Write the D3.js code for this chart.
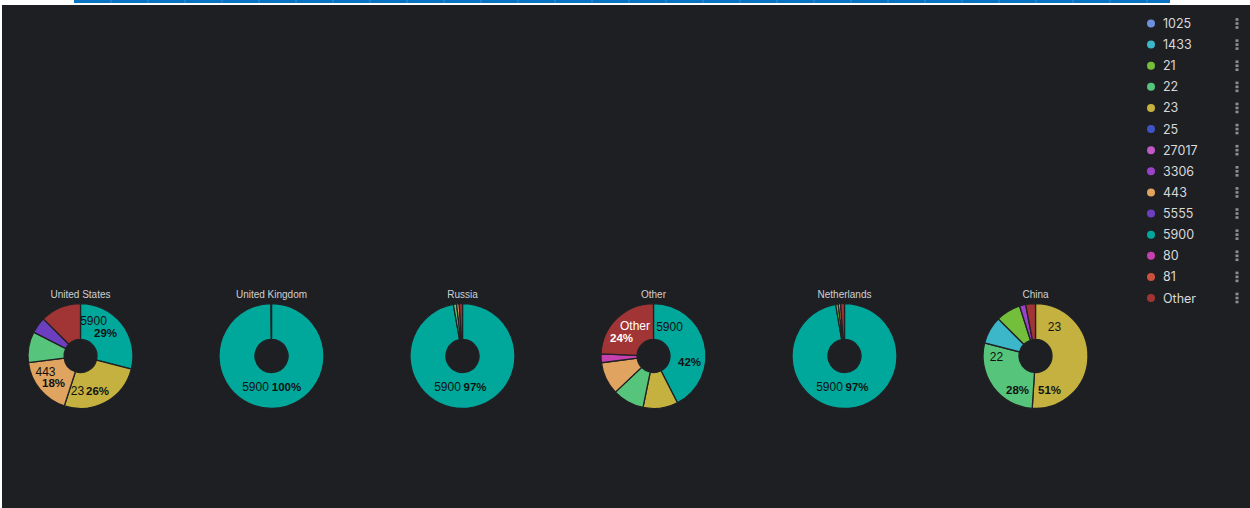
<!DOCTYPE html>
<html>
<head>
<meta charset="utf-8">
<script src="https://cdn.jsdelivr.net/npm/d3@7"></script>
<style>
  html, body { margin: 0; padding: 0; background: #fff; }
  #container { position: relative; width: 1250px; height: 508px; overflow: hidden; }
</style>
</head>
<body>
<div id="container"></div>
<script>
/** DATA */
const countries = ["United States", "United Kingdom", "Russia", "Other", "Netherlands", "China"];

const legendPorts = ["1025", "1433", "21", "22", "23", "25", "27017", "3306", "443", "5555", "5900", "80", "81", "Other"];
const portColors = ["#6e8fdc", "#3cb6c9", "#73bf3c", "#56c47a", "#c4b13f", "#3e54c4", "#c159c6",
  "#9a43c8", "#e0a360", "#6c3fc0", "#00a89c", "#c640b0", "#c9513d", "#a13535"];

// share of traffic per destination port, one pair of arrays per country
const usPorts = ["5900", "23", "443", "22", "5555", "Other"];
const usShare = [29, 26, 18, 9.5, 5, 12.5];
const ukPorts = ["5900", "Other"];
const ukShare = [99.85, 0.15];
const ruPorts = ["5900", "22", "443", "Other"];
const ruShare = [97.2, 1, 0.8, 1];
const otherPorts = ["5900", "23", "22", "443", "80", "Other"];
const otherShare = [42.4, 10.7, 9.7, 10, 2.7, 24.3];
const nlPorts = ["5900", "21", "443", "Other"];
const nlShare = [97.3, 0.8, 0.7, 1.2];
const cnPorts = ["23", "22", "1433", "21", "3306", "Other"];
const cnShare = [51, 28, 8.5, 7.6, 1.9, 3];

const pieData = [
  [usPorts, usShare], [ukPorts, ukShare], [ruPorts, ruShare],
  [otherPorts, otherShare], [nlPorts, nlShare], [cnPorts, cnShare]
];

/** LAYOUT */
const width = 1250, height = 508;
const outerR = 52.5, innerR = 16.5;

// where name / percent labels sit, as offsets (px) from each pie's centre
const labelSpots = {
  "United States|5900": { name: [13, -35], pct: [25, -23.5] },
  "United States|23": { name: [-3, 35], pct: [17, 35] },
  "United States|443": { name: [-35, 15.5], pct: [-27, 27] },
  "United Kingdom|5900": { name: [-16, 31], pct: [15, 31] },
  "Russia|5900": { name: [-15, 31], pct: [12.5, 31] },
  "Other|5900": { name: [16, -29.5], pct: [36, 6] },
  "Other|Other": { name: [-18.5, -30], pct: [-32, -18.5] },
  "Netherlands|5900": { name: [-15, 31], pct: [12.5, 31] },
  "China|23": { name: [19, -29], pct: [14, 34] },
  "China|22": { name: [-39, 1], pct: [-18, 34] }
};

const colorScale = d3.scaleOrdinal().domain(legendPorts).range(portColors);
const xScale = d3.scalePoint().domain(countries).range([80.5, 1035.5]);
const cy = 356;

const svg = d3.select("#container").append("svg")
  .attr("width", width)
  .attr("height", height);

// panel background
svg.append("rect").attr("x", 2).attr("y", 5).attr("width", width - 2).attr("height", height - 5)
  .attr("fill", "#1e1f23");

// blue strip at the top
svg.append("rect").attr("x", 74).attr("y", 0).attr("width", 1096).attr("height", 3).attr("fill", "#0a74c4");
svg.append("g").selectAll("line")
  .data(d3.range(74 + 37, 1170, 37))
  .join("line")
  .attr("x1", d => d).attr("x2", d => d).attr("y1", 0).attr("y2", 3)
  .attr("stroke", "#3d8fd0").attr("stroke-width", 1);

const pie = d3.pie().sort(null).value(d => d.value);
const arc = d3.arc().innerRadius(innerR).outerRadius(outerR);

countries.forEach((country, i) => {
  const [ports, share] = pieData[i];
  const total = d3.sum(share);
  const slices = ports.map((p, j) => ({ port: p, value: share[j] }));
  const g = svg.append("g").attr("transform", `translate(${xScale(country)},${cy})`);

  g.selectAll("path")
    .data(pie(slices))
    .join("path")
    .attr("d", arc)
    .attr("fill", d => colorScale(d.data.port))
    .attr("stroke", "#202124")
    .attr("stroke-width", 1.3);

  g.append("text")
    .attr("x", 0).attr("y", -outerR - 6)
    .attr("text-anchor", "middle")
    .attr("font-family", "Liberation Sans, Arial, sans-serif")
    .attr("font-size", 10)
    .attr("fill", "#cfd0d2")
    .text(country);

  slices.forEach(s => {
    const spot = labelSpots[country + "|" + s.port];
    if (!spot) return;
    const fill = s.port === "Other" ? "#ffffff" : "#111111";
    g.append("text")
      .attr("x", spot.name[0]).attr("y", spot.name[1])
      .attr("text-anchor", "middle").attr("dominant-baseline", "central")
      .attr("font-family", "Liberation Sans, Arial, sans-serif")
      .attr("font-size", 12)
      .attr("fill", fill)
      .text(s.port);
    g.append("text")
      .attr("x", spot.pct[0]).attr("y", spot.pct[1])
      .attr("text-anchor", "middle").attr("dominant-baseline", "central")
      .attr("font-family", "Liberation Sans, Arial, sans-serif")
      .attr("font-size", 11.5)
      .attr("font-weight", "bold")
      .attr("fill", fill)
      .text(Math.round(s.value / total * 100) + "%");
  });
});

// legend
const legendY = d3.scalePoint().domain(legendPorts).range([23.5, 298]);
const legend = svg.append("g").selectAll("g")
  .data(legendPorts)
  .join("g")
  .attr("transform", d => `translate(0,${legendY(d)})`);

legend.append("circle")
  .attr("cx", 1151).attr("cy", 0).attr("r", 4)
  .attr("fill", d => colorScale(d));

legend.append("text")
  .attr("x", 1163).attr("y", 0)
  .attr("dominant-baseline", "central")
  .attr("font-family", "Inter, Roboto, sans-serif")
  .attr("font-size", 12.5)
  .attr("fill", "#d8d9da")
  .text(d => d);

legend.selectAll("rect.dot")
  .data([-4, 0, 4])
  .join("rect")
  .attr("class", "dot")
  .attr("x", 1235.5).attr("y", d => d - 1.3)
  .attr("width", 3).attr("height", 2.6)
  .attr("fill", "#8e8e8e");
</script>
</body>
</html>
